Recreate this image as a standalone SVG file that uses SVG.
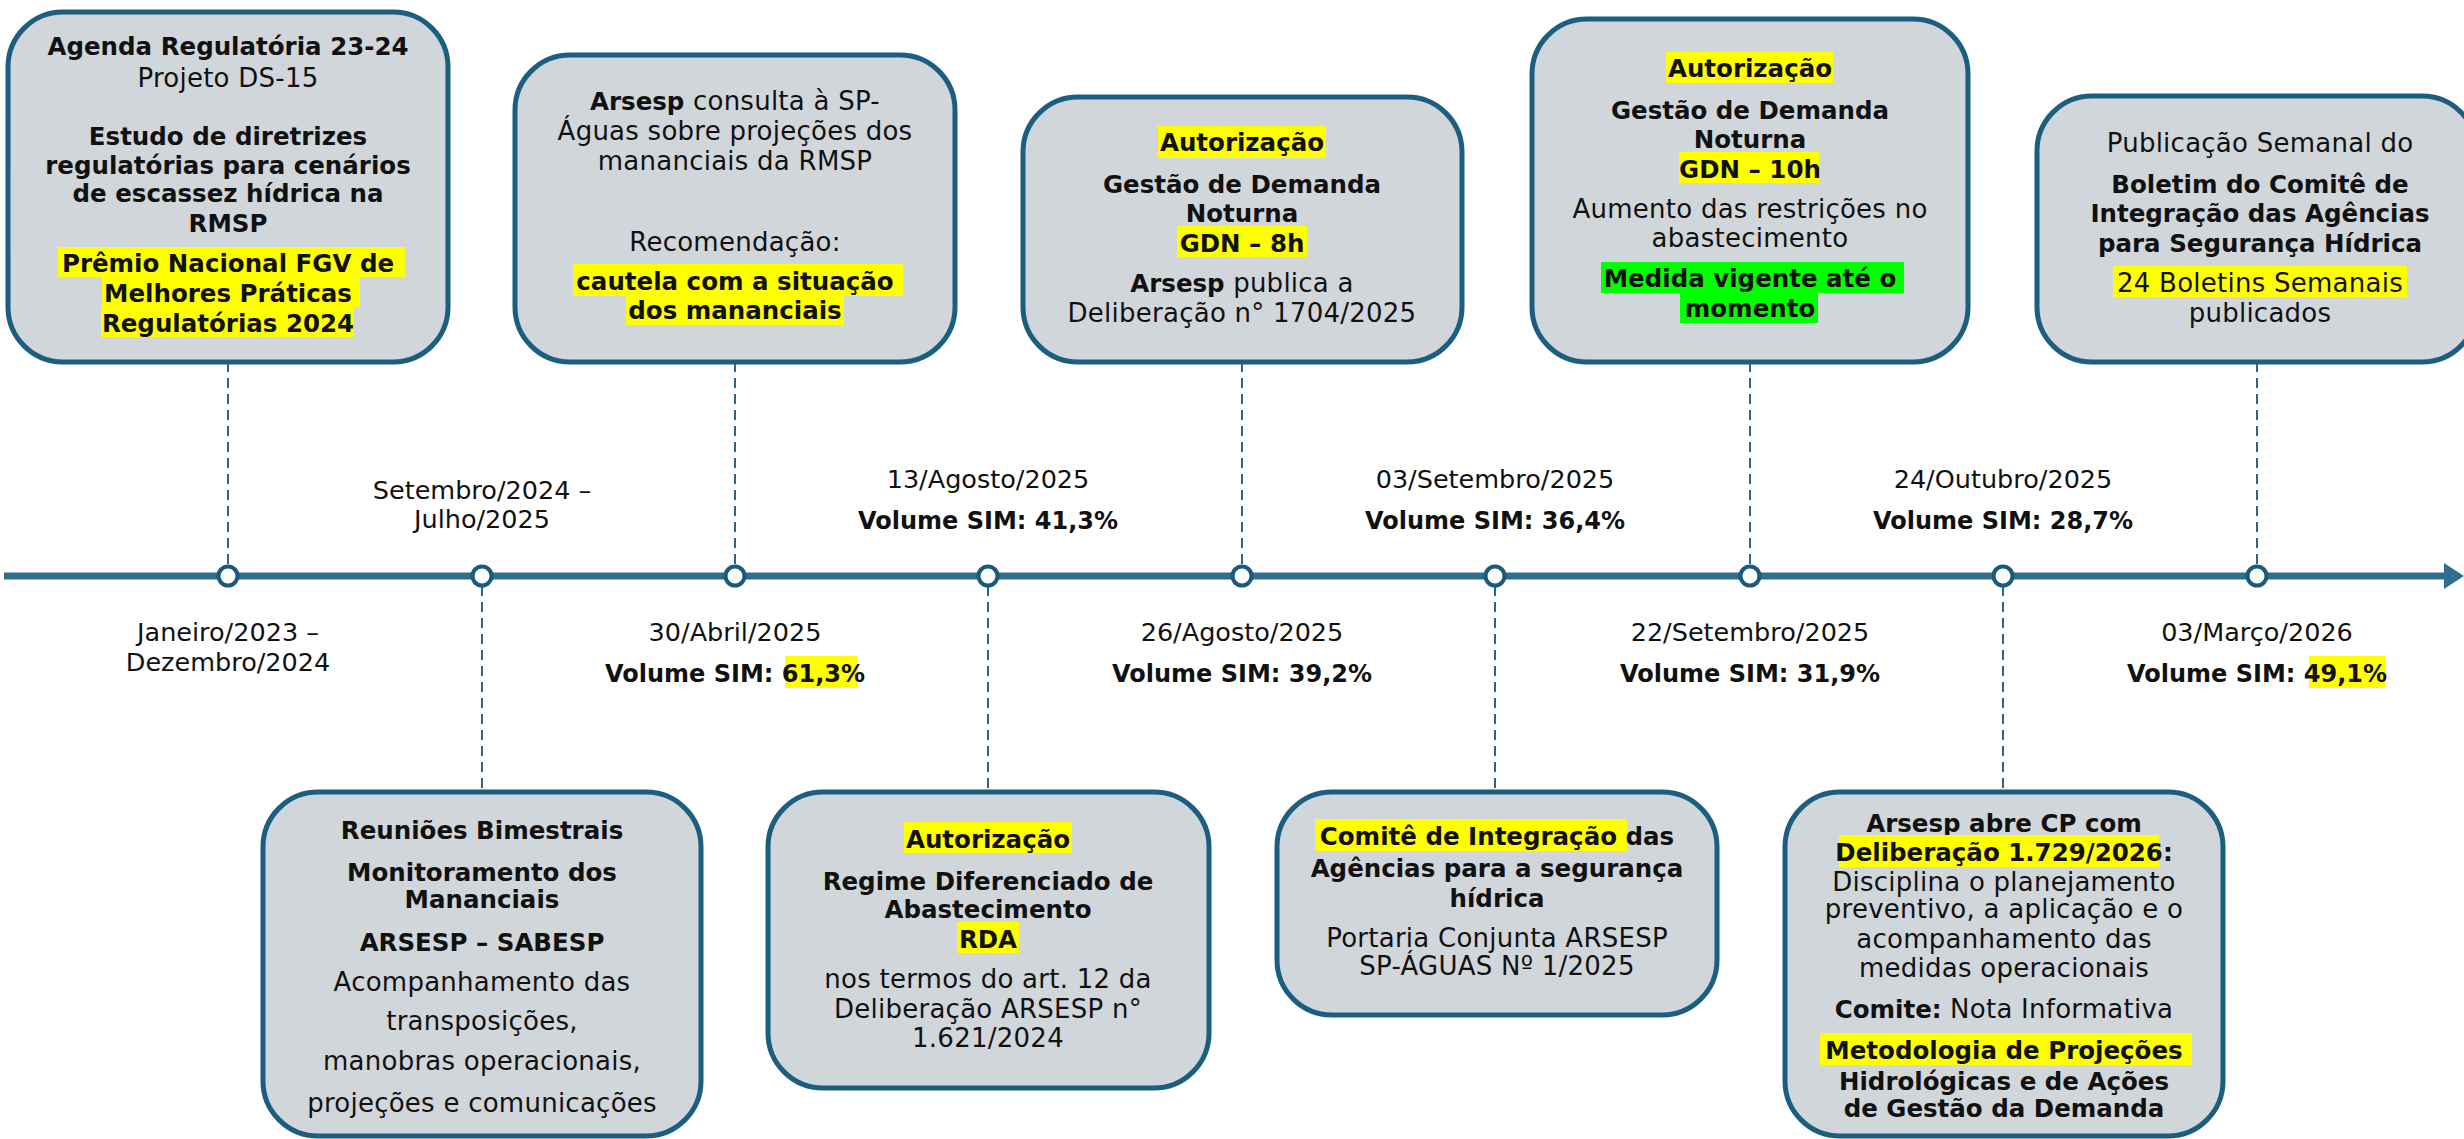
<svg xmlns="http://www.w3.org/2000/svg" width="2464" height="1139" viewBox="0 0 2464 1139">
<defs>
<style>
.box{fill:#d1d6db;stroke:#1b5e80;stroke-width:5}
text{font-family:"DejaVu Sans","Liberation Sans",sans-serif;fill:#111;text-anchor:middle}
.b{font-weight:bold;font-size:24.5px}
.r{font-size:26px;letter-spacing:0.25px}
.t{font-size:25.5px}
.tb{font-weight:bold;font-size:24px}
.hy{fill:#ffff00}
.hg{fill:#00ff00}
.dash{stroke:#2a6888;stroke-width:2;stroke-dasharray:10 6;fill:none}
.dot{fill:#fff;stroke:#1a5a7c;stroke-width:4}
</style>
</defs>
<rect width="2464" height="1139" fill="#fff"/>

<g id="connectors">
<line x1="4" y1="576" x2="2446" y2="576" stroke="#2f6e8e" stroke-width="7"/>
<polygon points="2444,563 2464,576 2444,589" fill="#2f6e8e"/>
<line class="dash" x1="228" y1="362" x2="228" y2="566"/>
<line class="dash" x1="735" y1="362" x2="735" y2="566"/>
<line class="dash" x1="1242" y1="362" x2="1242" y2="566"/>
<line class="dash" x1="1750" y1="362" x2="1750" y2="566"/>
<line class="dash" x1="2257" y1="362" x2="2257" y2="566"/>
<line class="dash" x1="482" y1="586" x2="482" y2="792"/>
<line class="dash" x1="988" y1="586" x2="988" y2="792"/>
<line class="dash" x1="1495" y1="586" x2="1495" y2="792"/>
<line class="dash" x1="2003" y1="586" x2="2003" y2="792"/>
</g>

<g id="dots">
<circle class="dot" cx="228" cy="576" r="9.5"/>
<circle class="dot" cx="482" cy="576" r="9.5"/>
<circle class="dot" cx="735" cy="576" r="9.5"/>
<circle class="dot" cx="988" cy="576" r="9.5"/>
<circle class="dot" cx="1242" cy="576" r="9.5"/>
<circle class="dot" cx="1495" cy="576" r="9.5"/>
<circle class="dot" cx="1750" cy="576" r="9.5"/>
<circle class="dot" cx="2003" cy="576" r="9.5"/>
<circle class="dot" cx="2257" cy="576" r="9.5"/>
</g>

<g id="labels">
<text class="t" x="228" y="641">Janeiro/2023 –</text>
<text class="t" x="228" y="671">Dezembro/2024</text>
<text class="t" x="482" y="499">Setembro/2024 –</text>
<text class="t" x="482" y="528">Julho/2025</text>
<text class="t" x="735" y="641">30/Abril/2025</text>
<rect class="hy" x="785" y="656" width="73" height="32"/>
<text class="tb" x="735" y="682">Volume SIM: 61,3%</text>
<text class="t" x="988" y="488">13/Agosto/2025</text>
<text class="tb" x="988" y="529">Volume SIM: 41,3%</text>
<text class="t" x="1242" y="641">26/Agosto/2025</text>
<text class="tb" x="1242" y="682">Volume SIM: 39,2%</text>
<text class="t" x="1495" y="488">03/Setembro/2025</text>
<text class="tb" x="1495" y="529">Volume SIM: 36,4%</text>
<text class="t" x="1750" y="641">22/Setembro/2025</text>
<text class="tb" x="1750" y="682">Volume SIM: 31,9%</text>
<text class="t" x="2003" y="488">24/Outubro/2025</text>
<text class="tb" x="2003" y="529">Volume SIM: 28,7%</text>
<text class="t" x="2257" y="641">03/Março/2026</text>
<rect class="hy" x="2309" y="656" width="76" height="32"/>
<text class="tb" x="2257" y="682">Volume SIM: 49,1%</text>
</g>

<g id="n1">
<rect class="box" x="8" y="12" width="440" height="350" rx="55"/>
<text class="b" x="228" y="55">Agenda Regulatória 23-24</text>
<text class="r" x="228" y="87">Projeto DS-15</text>
<text class="b" x="228" y="145">Estudo de diretrizes</text>
<text class="b" x="228" y="174">regulatórias para cenários</text>
<text class="b" x="228" y="202">de escassez hídrica na</text>
<text class="b" x="228" y="232">RMSP</text>
<rect class="hy" x="58" y="247" width="347" height="30"/>
<rect class="hy" x="102" y="277" width="258" height="30"/>
<rect class="hy" x="101" y="307" width="253" height="30"/>
<text class="b" x="228" y="272">Prêmio Nacional FGV de </text>
<text class="b" x="228" y="302">Melhores Práticas</text>
<text class="b" x="228" y="332">Regulatórias 2024</text>
</g>

<g id="n2">
<rect class="box" x="515" y="55" width="440" height="307" rx="55"/>
<text class="r" x="735" y="110"><tspan font-weight="bold" font-size="24.5" letter-spacing="0">Arsesp</tspan> consulta à SP-</text>
<text class="r" x="735" y="140">Águas sobre projeções dos</text>
<text class="r" x="735" y="170">mananciais da RMSP</text>
<text class="r" x="735" y="251">Recomendação:</text>
<rect class="hy" x="573" y="264" width="330" height="32"/>
<rect class="hy" x="626" y="296" width="218" height="29"/>
<text class="b" x="735" y="290">cautela com a situação </text>
<text class="b" x="735" y="319">dos mananciais</text>
</g>

<g id="n3">
<rect class="box" x="1023" y="97" width="439" height="265" rx="55"/>
<rect class="hy" x="1158" y="126" width="168" height="32"/>
<text class="b" x="1242" y="151">Autorização</text>
<text class="b" x="1242" y="193">Gestão de Demanda</text>
<text class="b" x="1242" y="222">Noturna</text>
<rect class="hy" x="1177" y="226" width="130" height="31"/>
<text class="b" x="1242" y="252">GDN – 8h</text>
<text class="r" x="1242" y="292"><tspan font-weight="bold" font-size="24.5" letter-spacing="0">Arsesp</tspan> publica a</text>
<text class="r" x="1242" y="322">Deliberação n° 1704/2025</text>
</g>

<g id="n4">
<rect class="box" x="1532" y="19" width="436" height="343" rx="55"/>
<rect class="hy" x="1666" y="52" width="167" height="31"/>
<text class="b" x="1750" y="77">Autorização</text>
<text class="b" x="1750" y="119">Gestão de Demanda</text>
<text class="b" x="1750" y="148">Noturna</text>
<rect class="hy" x="1679" y="152" width="140" height="31"/>
<text class="b" x="1750" y="178">GDN – 10h</text>
<text class="r" x="1750" y="218">Aumento das restrições no</text>
<text class="r" x="1750" y="247">abastecimento</text>
<rect class="hg" x="1601" y="262" width="303" height="31"/>
<rect class="hg" x="1680" y="293" width="138" height="30"/>
<text class="b" x="1750" y="287">Medida vigente até o </text>
<text class="b" x="1750" y="317">momento</text>
</g>

<g id="n5">
<rect class="box" x="2037" y="96" width="440" height="266" rx="55"/>
<text class="r" x="2260" y="152">Publicação Semanal do</text>
<text class="b" x="2260" y="193">Boletim do Comitê de</text>
<text class="b" x="2260" y="222">Integração das Agências</text>
<text class="b" x="2260" y="252">para Segurança Hídrica</text>
<rect class="hy" x="2113" y="266" width="294" height="31"/>
<text class="r" x="2260" y="292">24 Boletins Semanais </text>
<text class="r" x="2260" y="322">publicados</text>
</g>

<g id="n6">
<rect class="box" x="263" y="792" width="438" height="344" rx="55"/>
<text class="b" x="482" y="839">Reuniões Bimestrais</text>
<text class="b" x="482" y="881">Monitoramento dos</text>
<text class="b" x="482" y="908">Mananciais</text>
<text class="b" x="482" y="951">ARSESP – SABESP</text>
<text class="r" x="482" y="991">Acompanhamento das</text>
<text class="r" x="482" y="1030">transposições,</text>
<text class="r" x="482" y="1070">manobras operacionais,</text>
<text class="r" x="482" y="1112">projeções e comunicações</text>
</g>

<g id="n7">
<rect class="box" x="768" y="792" width="441" height="296" rx="55"/>
<rect class="hy" x="904" y="822" width="168" height="31"/>
<text class="b" x="988" y="848">Autorização</text>
<text class="b" x="988" y="890">Regime Diferenciado de</text>
<text class="b" x="988" y="918">Abastecimento</text>
<rect class="hy" x="957" y="922" width="62" height="31"/>
<text class="b" x="988" y="948">RDA</text>
<text class="r" x="988" y="988">nos termos do art. 12 da</text>
<text class="r" x="988" y="1018">Deliberação ARSESP n°</text>
<text class="r" x="988" y="1047">1.621/2024</text>
</g>

<g id="n8">
<rect class="box" x="1277" y="792" width="440" height="223" rx="55"/>
<rect class="hy" x="1315" y="819" width="312" height="32"/>
<text class="b" x="1497" y="845">Comitê de Integração das</text>
<text class="b" x="1497" y="877">Agências para a segurança</text>
<text class="b" x="1497" y="907">hídrica</text>
<text class="r" x="1497" y="947">Portaria Conjunta ARSESP</text>
<text class="r" x="1497" y="975">SP-ÁGUAS Nº 1/2025</text>
</g>

<g id="n9">
<rect class="box" x="1785" y="792" width="438" height="344" rx="55"/>
<text class="b" x="2004" y="832">Arsesp abre CP com</text>
<rect class="hy" x="1839" y="835" width="320" height="32"/>
<text class="b" x="2004" y="861">Deliberação 1.729/2026:</text>
<text class="r" x="2004" y="891">Disciplina o planejamento</text>
<text class="r" x="2004" y="918">preventivo, a aplicação e o</text>
<text class="r" x="2004" y="948">acompanhamento das</text>
<text class="r" x="2004" y="977">medidas operacionais</text>
<text class="r" x="2004" y="1018"><tspan font-weight="bold" font-size="24.5" letter-spacing="0">Comite:</tspan> Nota Informativa</text>
<rect class="hy" x="1820" y="1033" width="372" height="32"/>
<text class="b" x="2004" y="1059">Metodologia de Projeções </text>
<text class="b" x="2004" y="1090">Hidrológicas e de Ações</text>
<text class="b" x="2004" y="1117">de Gestão da Demanda</text>
</g>
</svg>
